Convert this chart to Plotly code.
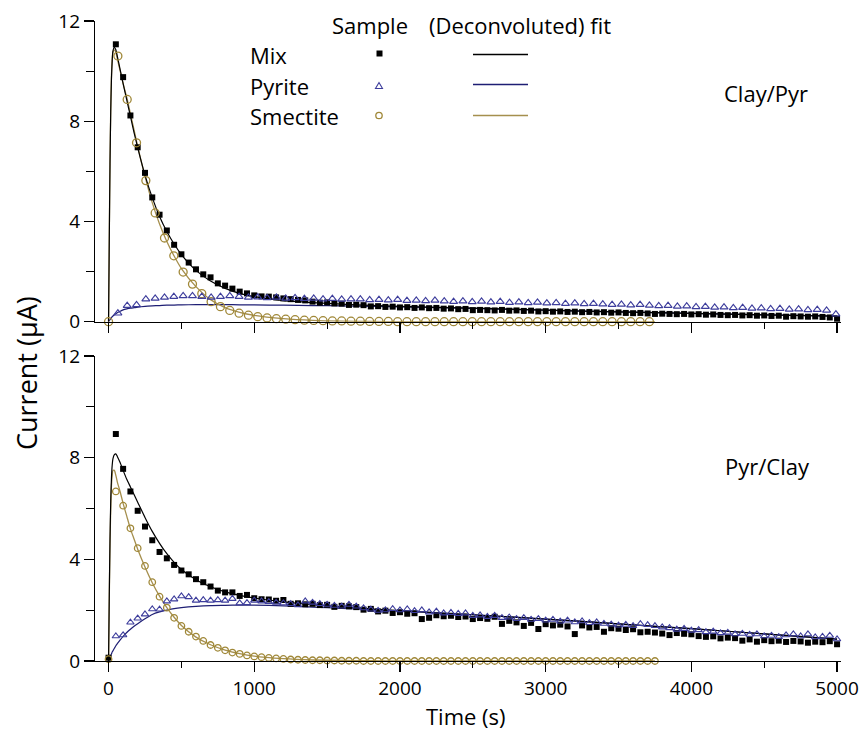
import plotly.graph_objects as go

# ---------------- figure geometry ----------------
W, H = 860, 731
ML, MR, MT, MB = 95, 19, 21, 70
OFF = 0  # body margin is removed in the page (post_script below)
FONT = "Open Sans"

# ---------------- data: Clay/Pyr (top panel) ----------------
MIX_TOP_T0, MIX_TOP_DT = 50, 50
mix_top = [
    11.07, 9.76, 8.23, 6.96, 5.94, 4.96, 4.27, 3.64, 3.07,
    2.69, 2.36, 2.09, 1.89, 1.77, 1.53, 1.44, 1.32, 1.20, 1.13,
    1.05, 1.01, 1.00, 0.97, 0.93, 0.90, 0.87, 0.85, 0.80, 0.76,
    0.77, 0.73, 0.72, 0.67, 0.68, 0.66, 0.61, 0.62, 0.59, 0.60,
    0.57, 0.58, 0.55, 0.57, 0.54, 0.55, 0.52, 0.53, 0.50, 0.51,
    0.46, 0.47, 0.46, 0.45, 0.47, 0.44, 0.45, 0.43, 0.44, 0.41,
    0.42, 0.40, 0.41, 0.39, 0.40, 0.38, 0.39, 0.37, 0.38, 0.36,
    0.37, 0.35, 0.34, 0.35, 0.33, 0.31, 0.32, 0.31, 0.30, 0.31,
    0.29, 0.30, 0.28, 0.29, 0.27, 0.26, 0.27, 0.25, 0.26, 0.24,
    0.25, 0.23, 0.24, 0.20, 0.22, 0.21, 0.20, 0.21, 0.19, 0.17,
    0.12,
]
PYR_TOP_T0, PYR_TOP_DT = 64, 64
pyr_top = [
    0.34, 0.64, 0.67, 0.90, 0.93, 0.97, 1.00, 1.03, 1.03, 1.00,
    0.97, 1.00, 1.03, 1.00, 0.97, 0.98, 0.95, 0.97, 0.93, 0.95,
    0.92, 0.93, 0.90, 0.92, 0.89, 0.90, 0.90, 0.87, 0.88, 0.86,
    0.88, 0.84, 0.85, 0.83, 0.85, 0.82, 0.80, 0.82, 0.79, 0.81,
    0.78, 0.80, 0.76, 0.78, 0.75, 0.77, 0.74, 0.75, 0.72, 0.74,
    0.71, 0.72, 0.70, 0.68, 0.69, 0.66, 0.68, 0.65, 0.63, 0.64,
    0.61, 0.62, 0.59, 0.60, 0.57, 0.58, 0.55, 0.56, 0.53, 0.54,
    0.51, 0.52, 0.49, 0.50, 0.47, 0.48, 0.45, 0.30,
]
SMEC_TOP_T0, SMEC_TOP_DT = 0, 64
smec_top = [
    0.00, 10.60, 8.87, 7.14, 5.63, 4.34, 3.34, 2.63, 1.98, 1.50,
    1.12, 0.80, 0.60, 0.45, 0.34, 0.26, 0.20, 0.15, 0.12, 0.10,
    0.08, 0.06, 0.05, 0.04, 0.03, 0.03, 0.02, 0.02, 0.01, 0.01,
    0.01, 0.00, 0.00, 0.00, 0.00, 0.00, 0.00, 0.00, 0.00, 0.00,
    0.00, 0.00, 0.00, 0.00, 0.00, 0.00, 0.00, 0.00, 0.00, 0.00,
    0.00, 0.00, 0.00, 0.00, 0.00, 0.00, 0.00, 0.00, 0.00,
]

# fitted / deconvoluted curves (time grid in s)
fit_t = [0, 5, 10, 15, 20, 25, 30, 40, 50, 60, 80, 100, 125, 150, 175, 200,
         250, 300, 350, 400, 450, 500, 600, 700, 800, 900, 1000, 1200, 1400,
         1600, 1800, 2000, 2500, 3000, 3500, 4000, 4500, 5000]
mix_fit_top = [0, 3.3, 6.3, 8.4, 9.7, 10.4, 10.8, 10.95, 10.85, 10.6,
               10.05, 9.5, 8.85, 8.2, 7.55, 6.95, 5.85, 4.95, 4.2, 3.6,
               3.1, 2.68, 2.05, 1.62, 1.33, 1.13, 1.0, 0.84, 0.76, 0.70,
               0.65, 0.61, 0.54, 0.46, 0.39, 0.33, 0.27, 0.22]
pyr_fit_top = [0, 0.04, 0.08, 0.12, 0.16, 0.2, 0.23, 0.28, 0.32, 0.36,
               0.42, 0.47, 0.51, 0.54, 0.56, 0.58, 0.61, 0.63, 0.645, 0.66,
               0.665, 0.67, 0.68, 0.68, 0.68, 0.675, 0.67, 0.66, 0.645, 0.63,
               0.61, 0.59, 0.53, 0.46, 0.39, 0.33, 0.27, 0.22]
smec_fit_t = [0, 5, 10, 15, 20, 25, 30, 40, 50, 60, 80, 100, 125, 150, 175,
              200, 250, 300, 350, 400, 450, 500, 600, 700, 800, 900, 1000,
              1200, 1400, 1600, 1800, 2000, 2500, 3000, 3500, 3750]
smec_fit_top = [0, 3.4, 6.4, 8.5, 9.8, 10.45, 10.75, 10.85, 10.75, 10.5,
                10.0, 9.5, 8.95, 8.3, 7.65, 7.0, 5.8, 4.75, 3.9, 3.2,
                2.62, 2.12, 1.4, 0.88, 0.56, 0.37, 0.25, 0.12, 0.05, 0.02,
                0.01, 0, 0, 0, 0, 0]

# ---------------- data: Pyr/Clay (bottom panel) ----------------
MIX_BOT_T0, MIX_BOT_DT = 0, 50
mix_bot = [
    0.13, 8.93, 7.56, 6.67, 5.91, 5.29, 4.75, 4.29, 4.04, 3.78,
    3.56, 3.41, 3.22, 3.10, 2.93, 2.77, 2.70, 2.70, 2.56, 2.60,
    2.47, 2.43, 2.42, 2.37, 2.40, 2.25, 2.27, 2.23, 2.25, 2.20,
    2.21, 2.13, 2.17, 2.15, 2.12, 2.02, 2.05, 1.95, 1.98, 1.89,
    1.92, 1.86, 1.88, 1.65, 1.70, 1.80, 1.76, 1.78, 1.73, 1.75,
    1.65, 1.69, 1.66, 1.74, 1.46, 1.58, 1.52, 1.38, 1.50, 1.26,
    1.45, 1.40, 1.43, 1.36, 1.06, 1.40, 1.32, 1.34, 1.15, 1.29,
    1.27, 1.22, 1.25, 1.13, 1.15, 1.12, 1.08, 1.02, 1.10, 1.07,
    1.05, 0.98, 0.95, 0.97, 0.89, 0.92, 0.90, 0.80, 0.85, 0.76,
    0.82, 0.78, 0.80, 0.75, 0.79, 0.77, 0.72, 0.76, 0.74, 0.78,
    0.66,
]
PYR_BOT_T0, PYR_BOT_DT = 50, 50
pyr_bot = [
    0.98, 1.02, 1.52, 1.68, 1.84, 2.04, 2.03, 2.35, 2.43,
    2.55, 2.52, 2.38, 2.40, 2.38, 2.40, 2.38, 2.45, 2.28, 2.29,
    2.38, 2.35, 2.33, 2.30, 2.28, 2.25, 2.20, 2.35, 2.30, 2.25,
    2.22, 2.18, 2.15, 2.22, 2.15, 2.08, 2.03, 1.98, 2.00, 2.05,
    2.00, 2.04, 1.97, 2.00, 1.92, 1.95, 1.88, 1.90, 1.86, 1.88,
    1.78, 1.80, 1.74, 1.78, 1.70, 1.72, 1.66, 1.70, 1.63, 1.66,
    1.60, 1.63, 1.56, 1.60, 1.53, 1.57, 1.50, 1.53, 1.47, 1.44,
    1.40, 1.43, 1.38, 1.46, 1.42, 1.38, 1.33, 1.30, 1.24, 1.27,
    1.20, 1.22, 1.14, 1.16, 1.10, 1.12, 1.06, 1.08, 1.04, 1.06,
    0.98, 1.00, 0.95, 1.02, 1.06, 0.98, 1.06, 0.94, 0.96, 1.00,
    0.86,
]
SMEC_BOT_T0, SMEC_BOT_DT = 0, 50
smec_bot = [
    0.07, 6.67, 6.11, 5.22, 4.44, 3.74, 3.10, 2.53, 2.10, 1.70,
    1.38, 1.15, 0.96, 0.79, 0.63, 0.52, 0.42, 0.33, 0.28, 0.22,
    0.18, 0.15, 0.12, 0.10, 0.08, 0.06, 0.05, 0.04, 0.03, 0.03,
    0.02, 0.02, 0.01, 0.01, 0.01, 0.00, 0.00, 0.00, 0.00, 0.00,
    0.00, 0.00, 0.00, 0.00, 0.00, 0.00, 0.00, 0.00, 0.00, 0.00,
    0.00, 0.00, 0.00, 0.00, 0.00, 0.00, 0.00, 0.00, 0.00, 0.00,
    0.00, 0.00, 0.00, 0.00, 0.00, 0.00, 0.00, 0.00, 0.00, 0.00,
    0.00, 0.00, 0.00, 0.00, 0.00, 0.00,
]
mix_fit_bot = [0, 2.6, 4.8, 6.3, 7.2, 7.7, 7.95, 8.12, 8.15, 8.05,
               7.8, 7.5, 7.15, 6.85, 6.55, 6.25, 5.65, 5.1, 4.63, 4.22,
               3.88, 3.6, 3.2, 2.92, 2.72, 2.58, 2.48, 2.33, 2.22, 2.13,
               2.05, 1.98, 1.82, 1.65, 1.46, 1.27, 1.07, 0.86]
pyr_fit_bot = [0, 0.08, 0.15, 0.22, 0.28, 0.35, 0.4, 0.5, 0.6, 0.68,
               0.83, 0.97, 1.12, 1.25, 1.37, 1.47, 1.66, 1.83, 1.93, 2.0,
               2.06, 2.1, 2.15, 2.18, 2.19, 2.2, 2.2, 2.17, 2.12, 2.07,
               2.02, 1.97, 1.82, 1.65, 1.46, 1.27, 1.07, 0.86]
smec_fit_bot = [0, 2.5, 4.6, 6.0, 6.9, 7.3, 7.5, 7.5, 7.3, 7.05,
                6.65, 6.2, 5.7, 5.2, 4.8, 4.4, 3.7, 3.08, 2.55, 2.1,
                1.72, 1.4, 0.94, 0.64, 0.43, 0.29, 0.19, 0.09, 0.04, 0.02,
                0.01, 0, 0, 0, 0, 0]

# ---------------- labels / ticks ----------------
panel_labels = ["Clay/Pyr", "Pyr/Clay"]
series_names = ["Mix", "Pyrite", "Smectite"]
x_range = [-93, 5027]
y_range = [0, 12]
x_title = "Time (s)"
y_title = "Current (\u03bcA)"

# ---------------- styles ----------------
BLACK = "#000000"
PYR_MARK = "#3d3d9c"
PYR_LINE = "#1e1e74"
SMEC_MARK = "#a08838"
SMEC_LINE = "#a58f4e"


def times(t0, dt, n):
    return [t0 + dt * i for i in range(n)]


fig = go.Figure()


def add_panel(xa, ya, mix, mt0, mdt, pyr, pt0, pdt, smec, st0, sdt,
              mixfit, pyrfit, smecfit, circ_size, tri_size):
    common = dict(xaxis=xa, yaxis=ya, cliponaxis=False, showlegend=False,
                  hoverinfo="skip")
    fig.add_trace(go.Scatter(x=fit_t, y=pyrfit, mode="lines",
                             line=dict(color=PYR_LINE, width=1.2, shape="spline", smoothing=0.6),
                             **common))
    fig.add_trace(go.Scatter(x=smec_fit_t, y=smecfit, mode="lines",
                             line=dict(color=SMEC_LINE, width=1.3, shape="spline", smoothing=0.6),
                             **common))
    fig.add_trace(go.Scatter(x=fit_t, y=mixfit, mode="lines",
                             line=dict(color=BLACK, width=1.2, shape="spline", smoothing=0.6),
                             **common))
    fig.add_trace(go.Scatter(x=times(mt0, mdt, len(mix)), y=mix, mode="markers",
                             marker=dict(symbol="square", size=6, color=BLACK,
                                         line=dict(width=0)),
                             **common))
    fig.add_trace(go.Scatter(x=times(st0, sdt, len(smec)), y=smec, mode="markers",
                             marker=dict(symbol="circle-open", size=circ_size, color=SMEC_MARK,
                                         line=dict(width=1.3)),
                             **common))
    fig.add_trace(go.Scatter(x=times(pt0, pdt, len(pyr)), y=pyr, mode="markers",
                             marker=dict(symbol="triangle-up-open", size=tri_size, color=PYR_MARK,
                                         line=dict(width=1.1)),
                             **common))


add_panel("x", "y", mix_top, MIX_TOP_T0, MIX_TOP_DT, pyr_top, PYR_TOP_T0, PYR_TOP_DT,
          smec_top, SMEC_TOP_T0, SMEC_TOP_DT, mix_fit_top, pyr_fit_top, smec_fit_top, 8, 7)
add_panel("x2", "y2", mix_bot, MIX_BOT_T0, MIX_BOT_DT, pyr_bot, PYR_BOT_T0, PYR_BOT_DT,
          smec_bot, SMEC_BOT_T0, SMEC_BOT_DT, mix_fit_bot, pyr_fit_bot, smec_fit_bot, 6.5, 6.5)

PW = W - ML - MR
PH = H - MT - MB


def px(x):
    """screen x (window pixels) -> paper fraction"""
    return (x - OFF - ML) / PW


def py(y):
    """screen y (window pixels, from top) -> paper fraction"""
    return (H - MB - (y - OFF)) / PH


tickfont = dict(family=FONT, size=19, color=BLACK)
xcommon = dict(range=x_range, showline=True, linecolor=BLACK, linewidth=1.2,
               ticks="outside", ticklen=10, tickwidth=1.2, tickcolor=BLACK,
               tick0=0, dtick=1000, showgrid=False, zeroline=False, automargin=False,
               ticklabeloverflow="allow",
               minor=dict(dtick=500, ticks="outside", ticklen=6, tickwidth=1.1,
                          tickcolor=BLACK, showgrid=False),
               tickfont=tickfont)
ycommon = dict(range=y_range, showline=True, linecolor=BLACK, linewidth=1.2,
               ticks="outside", ticklen=10, tickwidth=1.2, tickcolor=BLACK,
               tick0=0, dtick=4, showgrid=False, zeroline=False, automargin=False,
               ticklabeloverflow="allow",
               minor=dict(dtick=2, ticks="outside", ticklen=8, tickwidth=1.1,
                          tickcolor=BLACK, showgrid=False),
               tickfont=tickfont)

top_dom = [py(321.7), 1.0]
bot_dom = [0.0, py(356)]

fig.update_layout(
    width=W, height=H, autosize=False,
    margin=dict(l=ML, r=MR, t=MT, b=MB, pad=0, autoexpand=False),
    paper_bgcolor="white", plot_bgcolor="white",
    showlegend=False, hovermode=False,
    font=dict(family=FONT, color=BLACK),
    xaxis=dict(domain=[0, 1], anchor="y", showticklabels=False, **xcommon),
    yaxis=dict(domain=top_dom, anchor="x", **ycommon),
    xaxis2=dict(domain=[0, 1], anchor="y2", showticklabels=True, **xcommon),
    yaxis2=dict(domain=bot_dom, anchor="x2", **ycommon),
)

ann = []


def text(x, y, s, size=22, xanchor="center", angle=0):
    ann.append(dict(x=px(x), y=py(y), xref="paper", yref="paper", text=s,
                    showarrow=False, xanchor=xanchor, yanchor="middle",
                    textangle=angle, font=dict(family=FONT, size=size, color=BLACK)))


text(370, 25, "Sample")
text(520, 25, "(Deconvoluted) fit")
row_y = [55, 86, 116]
for name, yy in zip(series_names, row_y):
    text(248, yy, name, xanchor="left")
text(766, 93, panel_labels[0])
text(767, 466, panel_labels[1])
text(466, 716, x_title, size=22)
text(26, 373, y_title, size=27, angle=-90)
fig.update_layout(annotations=ann)

shapes = []
# legend: sample markers
shapes.append(dict(type="rect", xref="paper", yref="paper",
                   x0=px(376.5), x1=px(382.5), y0=py(56.5), y1=py(50.5),
                   fillcolor=BLACK, line=dict(width=0)))
shapes.append(dict(type="path", xref="paper", yref="paper",
                   path=f"M {px(375.5)},{py(88.5)} L {px(382.5)},{py(88.5)} L {px(379)},{py(82.5)} Z",
                   line=dict(color=PYR_MARK, width=1.1)))
shapes.append(dict(type="circle", xref="paper", yref="paper",
                   x0=px(375.8), x1=px(382.2), y0=py(118.7), y1=py(112.3),
                   line=dict(color=SMEC_MARK, width=1.3)))
# legend: fit lines
for col, yy in zip([BLACK, PYR_LINE, SMEC_LINE], [54.5, 84.5, 115.5]):
    shapes.append(dict(type="line", xref="paper", yref="paper",
                       x0=px(473), x1=px(528), y0=py(yy), y1=py(yy),
                       line=dict(color=col, width=1.4)))
fig.update_layout(shapes=shapes)

fig.write_html("out.html",
               config={"displayModeBar": False, "staticPlot": True},
               post_script="document.body.style.margin='0';"
                           "document.body.style.overflow='hidden';")
